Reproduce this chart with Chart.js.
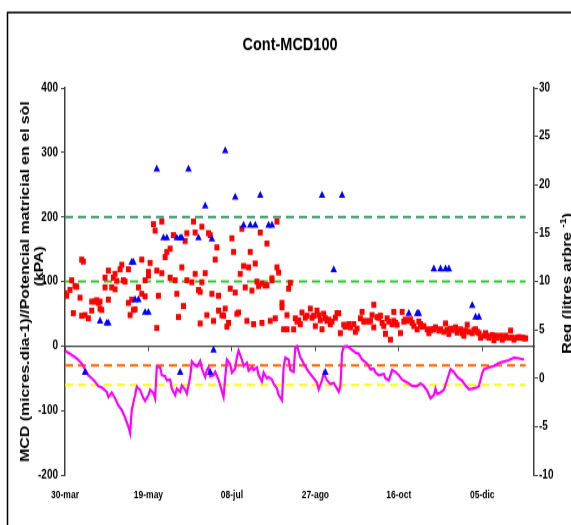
<!DOCTYPE html>
<html>
<head>
<meta charset="utf-8">
<script src="https://cdn.jsdelivr.net/npm/chart.js@4/dist/chart.umd.min.js"></script>
<style>
html, body { margin: 0; padding: 0; overflow: hidden; background: #fff; }
/* the original picture is an Excel chart stretched vertically, so the canvas is too */
#chart1 { width: 571px; height: 525px; }
</style>
</head>
<body>
<canvas id="chart1" width="571" height="430" style="width:571px;height:525px"></canvas>
<script>
// tick labels of the date axis (one every 50 days from 30-mar)
var dateLabels = ['30-mar', '19-may', '08-jul', '27-ago', '16-oct', '05-dic'];

// soil matric potential (kPa), red squares, left axis
var potDays = [0,1,3,4,5,6,7,9,10,10,11,12,14,16,16,18,19,20,21,21,22,24,24,26,26,28,29,30,30,31,33,34,35,36,38,38,39,40,41,42,44,46,46,48,48,50,50,51,
  53,54,55,55,56,58,58,60,61,63,63,65,66,67,68,70,71,72,73,73,76,77,78,78,80,81,81,82,82,84,85,86,87,88,89,90,91,92,92,94,95,96,97,98,99,
  100,101,102,103,104,105,106,107,108,109,110,111,112,113,114,115,116,117,118,118,120,121,121,123,124,124,126,127,127,128,130,130,131,133,133,134,135,137,138,139,140,141,142,144,145,147,148,149,150,151,152,153,154,155,156,157,158,159,160,162,163,
  164,165,167,168,170,171,173,174,175,177,178,179,180,182,183,184,185,185,187,188,189,190,191,192,193,194,195,196,197,197,198,199,201,202,203,204,205,207,208,209,211,212,213,214,215,217,218,219,220,221,222,224,225,227,228,229,230,231,232,234,235,237,238,239,240,241,242,244,245,246,247,248,249,251,252,253,254,256,257,258,259,261,262,263,264,266,267,268,269,271,272,274,275,276];
var potVals = [82,78,87,102,51,93,92,75,47,134,131,48,43,69,55,69,71,67,58,69,56,106,91,117,72,91,106,88,112,101,119,126,102,100,67,119,48,72,56,57,91,134,81,77,102,115,109,129,
  189,179,117,28,78,193,113,138,146,106,151,172,102,81,45,122,62,163,175,102,99,193,176,112,87,35,84,99,185,113,48,175,172,81,39,134,153,78,55,48,47,58,30,36,89,
  167,146,83,50,52,112,182,124,91,39,122,146,86,34,128,100,93,176,97,36,94,159,94,39,102,105,43,122,193,114,67,60,26,26,48,89,98,26,43,38,40,34,52,44,47,58,44,47,31,55,48,40,26,50,43,39,41,34,38,44,51,
  51,20,33,30,34,29,34,22,27,43,53,38,39,38,39,48,29,64,45,44,47,36,31,19,43,38,10,34,53,39,36,33,20,53,38,41,39,41,36,31,26,38,34,30,31,26,20,25,26,26,29,24,26,22,35,25,19,27,25,29,21,26,20,16,24,33,22,20,25,26,22,20,13,16,20,16,13,17,9,16,13,16,10,13,16,13,24,13,10,13,14,13,12,12];

// irrigation (litres arbre-1), blue triangles, right axis
var regDays = [12,21,25,26,40,41,42,44,48,50,55,59,61,67,69,69,70,74,80,84,87,88,89,96,102,107,111,114,117,122,124,154,156,161,166,206,211,212,221,225,228,230,244,246,248];
var regVals = [0.6,5.9,5.7,5.7,12,12,8.1,8.1,6.8,6.8,21.6,14.5,14.5,14.5,14.5,0.6,14.5,21.6,14.5,17.8,0.6,14.4,2.9,23.5,18.7,15.8,15.8,15.8,18.9,15.8,15.8,18.9,0.6,11.2,18.9,6.7,6.7,6.7,11.3,11.3,11.3,11.3,7.5,6.3,6.3];

// MCD (micres/dia), magenta line, left axis
var mcdDays = [0,3,7,10,12,14,16,18,20,22,25,26,28,30,32,34,36,38,39,40,42,43,45,47,48,50,51,53,54,55,57,58,60,61,63,64,66,67,69,70,72,73,75,76,78,79,81,82,84,85,86,87,89,90,92,93,95,96,97,99,
  100,102,103,104,106,107,109,110,112,113,115,116,118,119,121,122,124,125,127,128,130,131,132,134,135,137,138,139,141,143,145,147,149,151,152,154,155,157,159,161,163,164,165,166,167,169,171,174,176,178,
  181,183,185,186,188,191,192,194,196,198,200,202,204,206,208,211,213,215,217,219,221,222,223,225,227,229,231,233,235,238,240,242,244,247,248,250,251,254,257,260,263,266,269,272,275];
var mcdVals = [-7,-12,-19,-27,-36,-45,-50,-55,-62,-64,-71,-79,-72,-81,-92,-99,-111,-125,-135,-99,-76,-63,-68,-81,-85,-76,-68,-73,-81,-32,-33,-45,-47,-53,-52,-66,-76,-66,-71,-61,-68,-74,-48,-24,-30,-32,-23,-35,-48,-37,-33,-47,-45,-40,-52,-61,-79,-48,-21,-28,
  -41,-35,-17,-7,-21,-31,-26,-38,-33,-37,-33,-45,-55,-41,-50,-48,-52,-58,-66,-76,-84,-32,-18,-21,-37,-40,-1,0,-17,-27,-36,-43,-50,-57,-67,-53,-42,-53,-59,-57,-66,-71,-63,-11,-1,0,-4,-10,-12,-21,
  -27,-36,-35,-41,-45,-43,-50,-53,-37,-40,-45,-52,-55,-58,-62,-62,-58,-62,-69,-81,-76,-66,-74,-72,-68,-52,-36,-40,-48,-54,-61,-67,-66,-64,-62,-42,-36,-33,-31,-26,-24,-22,-18,-19,-21];

// dashed reference levels (left axis) and the days they span
var refLevels = [200, 100, -30, -60];
var refColors = ['#339966', '#33cc33', '#ff6600', '#ffff00'];
var refSpan = [0, 276];

var chartTitle = 'Cont-MCD100';
var leftTitle = ['MCD (micres.dia-1)//Potencial matricial en el sòl', '(kPA)'];
var rightTitle = ['Reg (litres arbre ', '-1', ')'];

var fontFamily = "'Liberation Sans', Arial, sans-serif";

function pairs(xs, ys) {
    return xs.map(function (x, i) { return { x: x, y: ys[i] }; });
}

var datasets = [
    {
        label: 'Reg',
        data: pairs(regDays, regVals),
        yAxisID: 'y1', xAxisID: 'x',
        pointStyle: 'triangle', pointRadius: 3.8,
        backgroundColor: '#0000ff', borderWidth: 0,
        order: 0
    },
    {
        label: 'Potencial',
        data: pairs(potDays, potVals),
        yAxisID: 'y', xAxisID: 'x',
        pointStyle: 'rect', pointRadius: 3.5,
        backgroundColor: '#ff0000', borderWidth: 0,
        order: 1
    },
    {
        type: 'line',
        label: 'MCD',
        data: pairs(mcdDays, mcdVals),
        yAxisID: 'y', xAxisID: 'x',
        borderColor: '#ff00ff', borderWidth: 2.2,
        pointRadius: 0, tension: 0,
        order: 2
    }
];

refLevels.forEach(function (lvl, i) {
    datasets.push({
        type: 'line',
        label: 'ref' + lvl,
        data: refSpan.map(function (d) { return { x: d, y: lvl }; }),
        yAxisID: 'y', xAxisID: 'x',
        borderColor: refColors[i], borderWidth: 2,
        borderDash: [8, 5],
        pointRadius: 0,
        order: 3
    });
});

// frame of the Excel chart object and the two rotated axis titles
var decorations = {
    id: 'decorations',
    beforeDraw: function (chart) {
        var ctx = chart.ctx;
        ctx.save();
        ctx.strokeStyle = '#000';
        ctx.lineWidth = 1.5;
        ctx.beginPath();
        ctx.moveTo(7.5, chart.height);
        ctx.lineTo(7.5, 10.2);
        ctx.lineTo(chart.width, 10.2);
        ctx.stroke();
        ctx.restore();
    },
    afterDraw: function (chart) {
        var ctx = chart.ctx;
        var mid = (chart.chartArea.top + chart.chartArea.bottom) / 2;
        ctx.save();
        ctx.fillStyle = '#000';
        ctx.font = 'bold 13px ' + fontFamily;
        ctx.textAlign = 'center';
        ctx.textBaseline = 'alphabetic';

        ctx.save();
        ctx.translate(29, mid);
        ctx.rotate(-Math.PI / 2);
        ctx.fillText(leftTitle[0], 0, 0);
        ctx.restore();

        ctx.save();
        ctx.translate(43, mid - 12.5);
        ctx.rotate(-Math.PI / 2);
        ctx.fillText(leftTitle[1], 0, 0);
        ctx.restore();

        // right title, partly cut by the picture edge
        ctx.textAlign = 'left';
        var big = 'bold 13px ' + fontFamily, small = 'bold 8.5px ' + fontFamily;
        ctx.font = big;
        var w1 = ctx.measureText(rightTitle[0]).width;
        var w3 = ctx.measureText(rightTitle[2]).width;
        ctx.font = small;
        var w2 = ctx.measureText(rightTitle[1]).width;
        var u = -(w1 + w2 + w3) / 2;
        ctx.translate(571, mid + 1.5);
        ctx.rotate(-Math.PI / 2);
        ctx.font = big;
        ctx.fillText(rightTitle[0], u, 0);
        ctx.font = small;
        ctx.fillText(rightTitle[1], u + w1, -5);
        ctx.font = big;
        ctx.fillText(rightTitle[2], u + w1 + w2, 0);
        ctx.restore();
    }
};

var tickFont = { family: fontFamily, size: 10, weight: 'bold' };

var chart = new Chart(document.getElementById('chart1'), {
    type: 'scatter',
    data: { datasets: datasets },
    options: {
        responsive: false,
        animation: false,
        layout: { padding: { left: 9, right: 0, top: 0, bottom: 0 } },
        plugins: {
            legend: { display: false },
            tooltip: { enabled: false },
            title: {
                display: true,
                text: chartTitle,
                color: '#000',
                font: { family: fontFamily, size: 14.5, weight: 'bold' },
                padding: { top: 28.6, bottom: 26.1 }
            }
        },
        scales: {
            x: {
                type: 'linear', position: 'bottom',
                min: 0, max: 281,
                grid: { display: false, drawTicks: false },
                border: { display: false },
                ticks: {
                    stepSize: 50, includeBounds: false, autoSkip: false, maxRotation: 0,
                    padding: 11.7, color: '#000',
                    font: { family: fontFamily, size: 8.5, weight: 'bold' },
                    callback: function (v) { return dateLabels[v / 50] || ''; }
                },
                afterFit: function (s) { s.height = 40.9; }
            },
            x0: {
                type: 'linear', axis: 'x', position: { y: 0 },
                min: 0, max: 281,
                grid: { drawOnChartArea: false, drawTicks: true, tickLength: 3.3, color: '#404040' },
                border: { display: true, color: '#404040', width: 1.3 },
                ticks: { stepSize: 50, includeBounds: false, display: false }
            },
            y: {
                type: 'linear', position: 'left',
                min: -200, max: 400,
                grid: { drawOnChartArea: false, drawTicks: true, tickLength: 4, color: '#404040' },
                border: { display: true, color: '#404040', width: 1.5 },
                ticks: { stepSize: 100, padding: 3, color: '#000', font: tickFont },
                afterFit: function (s) { s.width = 56; }
            },
            y1: {
                type: 'linear', position: 'right',
                min: -10, max: 30,
                grid: { drawOnChartArea: false, drawTicks: true, tickLength: 4, color: '#404040' },
                border: { display: true, color: '#404040', width: 1.5 },
                ticks: { stepSize: 5, padding: 1, color: '#000', font: tickFont },
                afterFit: function (s) { s.width = 37; }
            }
        }
    },
    plugins: [decorations]
});
</script>
</body>
</html>
